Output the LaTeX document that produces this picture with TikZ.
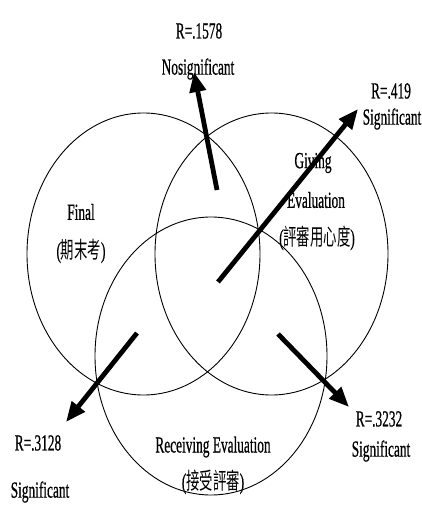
\documentclass[tikz,border=0pt]{standalone}
\usepackage{fontspec}
\setmainfont{Liberation Serif}[FakeBold=0.8]
\newfontfamily\cjk{Noto Sans CJK TC}
\usetikzlibrary{arrows.meta}
\newcommand{\narrowtxt}[1]{\scalebox{0.58}[1]{#1}}
\tikzset{
  setcirc/.style={draw=black, line width=0.9pt},
  lbl/.style={inner sep=0pt, font=\fontsize{23}{25}\selectfont},
  bigarrow/.style={line width=4.8pt, -{Triangle[length=20pt,width=16pt]}, shorten >=0pt}
}
\begin{document}
\begin{tikzpicture}[x=1pt,y=-1pt]
\useasboundingbox (0,0) rectangle (421,505);
% sets
\draw[setcirc] (143.5,254) ellipse [x radius=116.5pt, y radius=141pt];
\draw[setcirc] (271.5,254) ellipse [x radius=116.5pt, y radius=141pt];
\draw[setcirc] (211,356) ellipse [x radius=116pt, y radius=139pt];
% arrow coordinates
\coordinate (s1) at (217,190);
\coordinate (e1) at (194,72);
\coordinate (s2) at (218,282);
\coordinate (e2) at (358,109);
\coordinate (s3) at (137,333);
\coordinate (e3) at (66,422);
\coordinate (s4) at (278,334);
\coordinate (e4) at (349,407);
\draw[bigarrow] (s1) -- (e1);
\draw[bigarrow] (s2) -- (e2);
\draw[bigarrow] (s3) -- (e3);
\draw[bigarrow] (s4) -- (e4);
% labels
\node[lbl] (r1) at (199,31) {\narrowtxt{R=.1578}};
\node[lbl] (n1) at (198,69) {\narrowtxt{Nosignificant}};
\node[lbl] (r2) at (391,91) {\narrowtxt{R=.419}};
\node[lbl] (n2) at (392,119) {\narrowtxt{Significant}};
\node[lbl] (g1) at (313,163) {\narrowtxt{Giving}};
\node[lbl] (g2) at (316,200) {\narrowtxt{Evaluation}};
\node[lbl] (g3) at (317,238) {\narrowtxt{({\cjk 評審用心度})}};
\node[lbl] (f1) at (81,212) {\narrowtxt{Final}};
\node[lbl] (f2) at (81,251) {\narrowtxt{({\cjk 期末考})}};
\node[lbl] (b1) at (213,447) {\narrowtxt{Receiving Evaluation}};
\node[lbl] (b2) at (213,482) {\narrowtxt{({\cjk 接受評審})}};
\node[lbl] (r3) at (38,443) {\narrowtxt{R=.3128}};
\node[lbl] (n3) at (40,492) {\narrowtxt{Significant}};
\node[lbl] (r4) at (379,419) {\narrowtxt{R=.3232}};
\node[lbl] (n4) at (381,451) {\narrowtxt{Significant}};
\end{tikzpicture}
\end{document}
